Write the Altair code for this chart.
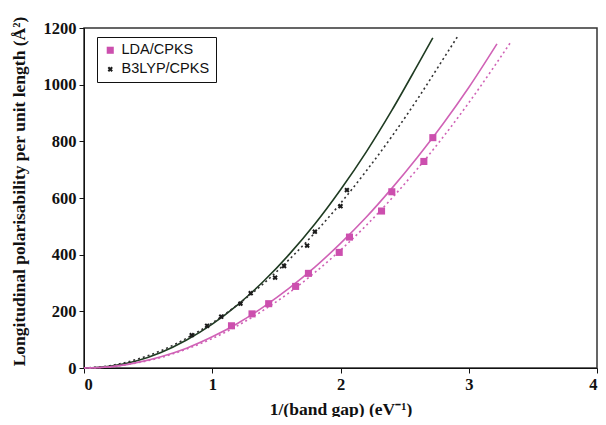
import altair as alt
import pandas as pd

# Data points
lda_x = [1.15, 1.31, 1.44, 1.65, 1.75, 1.99, 2.07, 2.32, 2.40, 2.65, 2.72]
lda_y = [149, 191, 227, 288, 334, 408, 462, 554, 622, 729, 813]
b3_x = [0.84, 0.96, 1.07, 1.22, 1.30, 1.49, 1.56, 1.74, 1.80, 2.00, 2.05]
b3_y = [116, 149, 181, 227, 264, 319, 360, 432, 481, 571, 628]

# Trend curves
b3_solid_x = [0, 0.2, 0.4, 0.6, 0.8, 1.0, 1.2, 1.4, 1.6, 1.8, 2.0, 2.2, 2.4, 2.6, 2.72]
b3_solid_y = [0, 6, 24, 55, 99, 155, 224, 306, 401, 508, 629, 762, 909, 1068, 1165]
b3_dot_x = [0, 0.2, 0.4, 0.6, 0.8, 1.0, 1.2, 1.4, 1.6, 1.8, 2.0, 2.2, 2.4, 2.6, 2.8, 2.92]
b3_dot_y = [0, 8, 29, 61, 105, 159, 224, 298, 383, 477, 581, 695, 817, 949, 1090, 1175]
lda_solid_x = [0, 0.2, 0.4, 0.6, 0.8, 1.0, 1.2, 1.4, 1.6, 1.8, 2.0, 2.2, 2.4, 2.6, 2.8, 3.0, 3.22]
lda_solid_y = [0, 4, 18, 40, 70, 110, 158, 216, 282, 356, 440, 532, 634, 744, 862, 990, 1144]
lda_dot_x = [0, 0.2, 0.4, 0.6, 0.8, 1.0, 1.2, 1.4, 1.6, 1.8, 2.0, 2.2, 2.4, 2.6, 2.8, 3.0, 3.2, 3.33]
lda_dot_y = [0, 4, 17, 37, 67, 104, 150, 204, 266, 337, 416, 503, 599, 703, 815, 936, 1065, 1152]

series = ["LDA/CPKS", "B3LYP/CPKS"]
pink = "#cc4fae"
pink_line = "#d062b6"
dark = "#1c1c1c"
dark_line = "#1f3b22"

pts = pd.DataFrame({
    "x": lda_x + b3_x,
    "y": lda_y + b3_y,
    "series": [series[0]] * len(lda_x) + [series[1]] * len(b3_x),
})

xscale = alt.Scale(domain=[0, 4], nice=False)
yscale = alt.Scale(domain=[0, 1200], nice=False)

xaxis = alt.Axis(
    values=[0, 1, 2, 3, 4], format="d", grid=False,
    title="1/(band gap) (eV\u207b\u00b9)",
    titleY=32, titleBaseline="top",
)
yaxis = alt.Axis(
    values=[0, 200, 400, 600, 800, 1000, 1200], format="d", grid=False,
    title="Longitudinal polarisability per unit length (\u00c5\u00b2)",
    titleX=-65, titleY=163, titleAngle=270, titleAlign="center", titleBaseline="middle",
)

def curve(xs, ys, color, dash=None):
    df = pd.DataFrame({"x": xs, "y": ys})
    kw = dict(color=color, strokeWidth=1.6, interpolate="monotone")
    if dash:
        kw["strokeDash"] = dash
    return alt.Chart(df).mark_line(**kw).encode(
        x=alt.X("x:Q", scale=xscale, axis=xaxis),
        y=alt.Y("y:Q", scale=yscale, axis=yaxis),
    )

x_path = "M-1,-0.45L-0.45,-1L0,-0.55L0.45,-1L1,-0.45L0.55,0L1,0.45L0.45,1L0,0.55L-0.45,1L-1,0.45L-0.55,0Z"

points = alt.Chart(pts).mark_point(filled=True, opacity=1, size=50).encode(
    x=alt.X("x:Q", scale=xscale, axis=xaxis),
    y=alt.Y("y:Q", scale=yscale, axis=yaxis),
    color=alt.Color("series:N", scale=alt.Scale(domain=series, range=[pink, dark]),
                    legend=alt.Legend(title=None, orient="none", legendX=13, legendY=9)),
    shape=alt.Shape("series:N", scale=alt.Scale(domain=series, range=["square", x_path]),
                    legend=alt.Legend(title=None, orient="none", legendX=13, legendY=9)),
    size=alt.Size("series:N", scale=alt.Scale(domain=series, range=[50, 28]), legend=None),
)

chart = alt.layer(
    curve(b3_solid_x, b3_solid_y, dark_line),
    curve(b3_dot_x, b3_dot_y, "#333333", [2, 3]),
    curve(lda_solid_x, lda_solid_y, pink_line),
    curve(lda_dot_x, lda_dot_y, pink_line, [2, 3]),
    points,
).properties(
    width=513, height=340,
    autosize=alt.AutoSizeParams(type="none"),
    padding={"left": 76, "top": 20, "right": 1, "bottom": 49},
).configure_view(
    stroke="#333333", strokeWidth=1.5,
).configure_axis(
    labelFont="Liberation Serif", labelFontWeight="bold", labelFontSize=16.5, labelColor="#111",
    titleFont="Liberation Serif", titleFontWeight="bold", titleFontSize=17.5, titleColor="#111",
    domainColor="#111", tickColor="#111", tickSize=5, labelPadding=3,
).configure_legend(
    labelFont="Liberation Sans", labelFontSize=14.5, labelColor="#111",
    strokeColor="#111", padding=6, rowPadding=4, symbolSize=40,
    fillColor="white",
)

chart.save("out.html", embed_options={"renderer": "svg", "actions": False})
